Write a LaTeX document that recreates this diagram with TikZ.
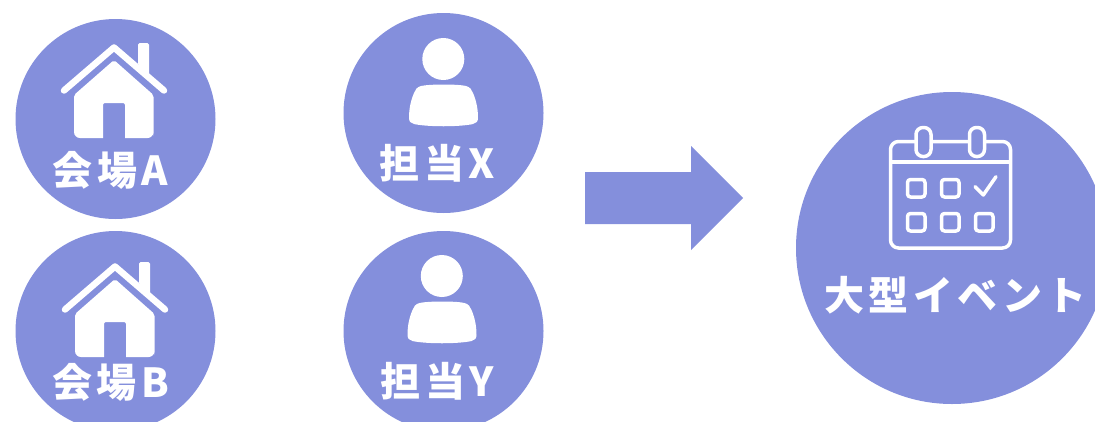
\documentclass[tikz,border=0pt]{standalone}
\usepackage{fontspec}
\newfontfamily\jpfont[LetterSpace=11]{Noto Sans CJK JP}
\definecolor{disc}{HTML}{848FDC}
\tikzset{
  disc/.style={circle,fill=disc,draw=none,minimum size=200pt,inner sep=0pt},
  bigdisc/.style={circle,fill=disc,draw=none,minimum size=312pt,inner sep=0pt},
  lab/.style={text=white,inner sep=0pt,font=\jpfont\bfseries\fontsize{40pt}{40pt}\selectfont},
  cal/.style={draw=white,line width=3.5pt,line join=round},
  pics/house/.style={code={
    \fill[white,rounded corners=1.5pt] (138,65) -- (138,43) -- (149,43) -- (149,75) -- cycle;
    \draw[white,line width=6.5pt,line cap=round,line join=round] (64,90.5) -- (114,47.5) -- (164,90.5);
    \fill[white,rounded corners=2pt] (114,60) -- (74,95) -- (74,130) [rounded corners=6pt] -- (74,138) [sharp corners] -- (103,138) [rounded corners=2pt] -- (103,103) -- (125,103) [sharp corners] -- (125,138) [rounded corners=6pt] -- (153.5,138) -- (153.5,130) [rounded corners=2pt] -- (153.5,95) -- cycle;
  }},
  pics/person/.style={code={
    \fill[white] (443.3,59) circle[radius=21];
    \fill[white] (421,86) .. controls (430,84) and (458,84) .. (466,86)
      .. controls (470,87) and (472,90) .. (473,93)
      .. controls (476,100) and (478,108) .. (478,118)
      .. controls (478,122) and (476,123) .. (473,124)
      .. controls (460,127) and (427,127) .. (414,124)
      .. controls (411,123) and (409,122) .. (409,118)
      .. controls (409,108) and (411,100) .. (414,93)
      .. controls (415,90) and (417,87) .. (421,86) -- cycle;
  }},
}
\begin{document}
\begin{tikzpicture}[x=1pt,y=-1pt]
\useasboundingbox (0,0) rectangle (1095,421);
\clip (0,0) rectangle (1095,421);
\node[disc] (a) at (115.5,119) {};
\node[disc] (b) at (115.5,331) {};
\node[disc] (x) at (443.5,113) {};
\node[disc] (y) at (443.5,331) {};
\node[bigdisc] (ev) at (952,248) {};
\pic at (0,0) {house};
\pic at (1,219) {house};
\pic at (0,0) {person};
\pic at (-1.5,217) {person};
\node[lab] (la) at (110.5,170) {会場A};
\node[lab] (lb) at (110.5,382) {会場B};
\node[lab] (lx) at (437.5,163) {担当X};
\node[lab] (ly) at (437.5,381) {担当Y};
\node[lab] (le) at (955.5,295) {大型イベント};
\fill[disc] (585,172) -- (691,172) -- (691,146) -- (743,198) -- (691,250) -- (691,224) -- (585,224) -- cycle;
% calendar
\draw[cal,rounded corners=8pt] (890.5,141.5) rectangle (1010.5,248);
\draw[cal] (890.5,162) -- (1010.5,162);
\foreach \cx in {923.5,977}{
  \draw[cal,fill=disc,rounded corners=7pt] (\cx-7.5,127.5) rectangle (\cx+7.5,156.5);
}
\foreach \px/\py in {907.5/179.5,941.5/179.5,907.5/213.5,941.5/213.5,975.5/213.5}{
  \draw[cal,rounded corners=3pt] (\px,\py) rectangle (\px+17.5,\py+17.5);
}
\draw[cal,line cap=round] (975,186.7) -- (983.3,195) -- (996,176.7);
\end{tikzpicture}
\end{document}
